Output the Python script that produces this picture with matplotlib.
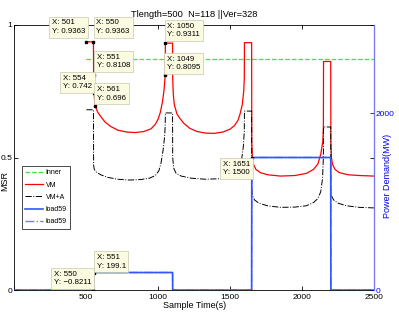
import numpy as np
import matplotlib
matplotlib.use("Agg")
import matplotlib.pyplot as plt

plt.rcParams['font.family'] = ['Liberation Sans', 'DejaVu Sans']

# Inner (constant level)
t_inner = [501, 2500]
inner = [0.87, 0.87]

# VM (red)
t_vm = [501, 550, 551, 554, 561, 580, 600, 630, 670, 720, 780, 840, 900, 950, 980, 1000,
        1015, 1030, 1040, 1049, 1050, 1100, 1101, 1105, 1112, 1130, 1150, 1180, 1220, 1270,
        1330, 1390, 1450, 1500, 1530, 1555, 1570, 1585, 1595, 1599, 1600, 1650, 1651, 1655,
        1662, 1680, 1710, 1760, 1850, 1950, 2030, 2080, 2110, 2130, 2145, 2149, 2150, 2200,
        2201, 2205, 2212, 2230, 2260, 2320, 2400, 2500]
vm = [0.9363, 0.9363, 0.8108, 0.742, 0.696, 0.67, 0.655, 0.634, 0.617, 0.603, 0.596, 0.594,
      0.598, 0.608, 0.625, 0.645, 0.67, 0.71, 0.75, 0.8095, 0.9311, 0.9311, 0.80, 0.74, 0.70,
      0.665, 0.648, 0.628, 0.61, 0.598, 0.592, 0.591, 0.596, 0.607, 0.62, 0.64, 0.665, 0.70,
      0.75, 0.80, 0.933, 0.933, 0.56, 0.50, 0.475, 0.455, 0.443, 0.435, 0.43, 0.432, 0.44,
      0.455, 0.475, 0.51, 0.56, 0.62, 0.862, 0.862, 0.56, 0.50, 0.475, 0.455, 0.443, 0.435,
      0.432, 0.43]

# VM+A (black)
t_vma = [501, 550, 551, 556, 570, 600, 650, 720, 800, 880, 940, 980, 1005, 1020, 1035, 1045,
         1049, 1050, 1100, 1101, 1108, 1125, 1160, 1230, 1330, 1430, 1500, 1540, 1565, 1580,
         1592, 1599, 1600, 1650, 1651, 1656, 1670, 1700, 1760, 1850, 1950, 2030, 2080, 2110,
         2130, 2143, 2149, 2150, 2200, 2201, 2206, 2220, 2250, 2310, 2400, 2500]
vma = [0.68, 0.68, 0.47, 0.455, 0.445, 0.435, 0.425, 0.418, 0.415, 0.417, 0.422, 0.432, 0.45,
       0.48, 0.53, 0.58, 0.62, 0.668, 0.668, 0.5, 0.46, 0.44, 0.43, 0.422, 0.418, 0.42, 0.428,
       0.44, 0.46, 0.49, 0.54, 0.6, 0.675, 0.675, 0.38, 0.355, 0.34, 0.328, 0.318, 0.312,
       0.313, 0.318, 0.33, 0.345, 0.37, 0.42, 0.5, 0.615, 0.615, 0.38, 0.355, 0.34, 0.328,
       0.318, 0.312, 0.31]

# load59 (power demand, MW)
t_load = [0, 550, 551, 1100, 1101, 1650, 1651, 2200, 2201, 2500]
load = [0, -0.8211, 199.1, 199.1, 0, 0, 1500, 1500, 0, 0]

# data tips
tips_left = [(501, 0.9363), (550, 0.9363), (551, 0.8108), (554, 0.742), (561, 0.696),
             (1050, 0.9311), (1049, 0.8095)]
tips_right = [(1651, 1500), (551, 199.1), (550, -0.8211)]

fig = plt.figure(figsize=(3.99, 3.15), dpi=100)
ax1 = fig.add_axes([0.036, 0.079, 0.901, 0.842])
ax2 = ax1.twinx()

ax1.plot(t_inner, inner, '--', color='#33ee33', lw=0.9, label='Inner')
ax1.plot(t_vm, vm, '-', color='red', lw=0.9, label='VM')
ax1.plot(t_vma, vma, '-.', color='black', lw=0.7, label='VM+A')
ax2.plot(t_load, load, '-.', color='#7777ff', lw=1.0, label='load59')
ax2.plot(t_load, load, '-', color='#3355ff', lw=1.2, label='load59')

ax1.set_xlim(0, 2500)
ax1.set_ylim(0, 1)
ax2.set_ylim(0, 3000)
ax1.set_xticks([0, 500, 1000, 1500, 2000, 2500])
ax1.set_xticklabels(['', '500', '1000', '1500', '2000', '2500'])
ax1.set_yticks([0, 0.5, 1])
ax1.set_yticklabels(['0', '0.5', '1'])
ax2.set_yticks([0, 2000])

ax1.tick_params(direction='in', top=True, right=True, labelsize=6, length=3, width=0.6, pad=1.5)
ax1.tick_params(axis='x', pad=2.5)
ax2.tick_params(direction='in', colors='blue', labelsize=6, length=3, width=0.6, pad=1.5)
for s in ['left', 'top', 'bottom']:
    ax1.spines[s].set_linewidth(0.6)
ax2.spines['right'].set_color('#7777ee')
ax2.spines['right'].set_linewidth(0.8)
for s in ['left', 'top', 'bottom']:
    ax2.spines[s].set_visible(False)

ax1.set_xlabel('Sample Time(s)', fontsize=6.5, labelpad=0)
ax1.set_ylabel('MSR', fontsize=6.5)
ax1.yaxis.set_label_coords(-0.014, 0.41)
ax2.set_ylabel('Power Demand(MW)', fontsize=6.5, color='blue')
ax2.yaxis.set_label_coords(1.025, 0.43)
ax1.set_title('Tlength=500  N=118 ||Ver=328', fontsize=6.7, pad=6)

h1, l1 = ax1.get_legend_handles_labels()
h2, l2 = ax2.get_legend_handles_labels()
h2 = [h2[1], h2[0]]
l2 = [l2[1], l2[0]]
leg = ax2.legend(h1 + h2, l1 + l2, loc='upper left', bbox_to_anchor=(0.021, 0.468),
                 borderaxespad=0, fontsize=5, handlelength=2.6, handletextpad=0.3,
                 labelspacing=0.75, borderpad=0.5, fancybox=False, framealpha=1)
leg.get_frame().set_edgecolor('black')
leg.get_frame().set_linewidth(0.5)

# data tip markers
ax2.plot([p[0] for p in tips_left], [p[1] for p in tips_left], 's', color='black',
         ms=2.1, transform=ax1.transData, zorder=6)
ax2.plot([p[0] for p in tips_right], [p[1] for p in tips_right], 's', color='black',
         ms=2.1, zorder=6)

# text box placement in pixels relative to marker
offsets = [(-1, 7, 'right', 'bottom'), (3, 7, 'left', 'bottom'), (3, 6, 'left', 'bottom'),
           (-2, 3, 'right', 'bottom'), (2, 4, 'left', 'bottom'), (2, 5, 'left', 'bottom'),
           (2, 4, 'left', 'bottom')]
offsets_r = [(-2, -3, 'right', 'top'), (3, 3, 'left', 'bottom'), (-2, 4, 'right', 'bottom')]

box = dict(boxstyle='square,pad=0.35', fc='#fbfbe2', ec='#c8c8b0', lw=0.5)
for (x, y), (dx, dy, ha, va) in zip(tips_left, offsets):
    ax2.annotate('X: %g\nY: %g' % (x, y), xy=(x, y), xycoords=ax1.transData,
                 xytext=(dx, dy), textcoords='offset pixels', ha=ha, va=va,
                 multialignment='left', fontsize=5.7, bbox=box, zorder=7, linespacing=1.3)
for (x, y), (dx, dy, ha, va) in zip(tips_right, offsets_r):
    ax2.annotate('X: %g\nY: %s' % (x, ('%g' % y).replace('-', '\u2212')), xy=(x, y),
                 xytext=(dx, dy), textcoords='offset pixels', ha=ha, va=va,
                 multialignment='left', fontsize=5.7, bbox=box, zorder=7, linespacing=1.3)

fig.savefig('out.png', dpi=100)
